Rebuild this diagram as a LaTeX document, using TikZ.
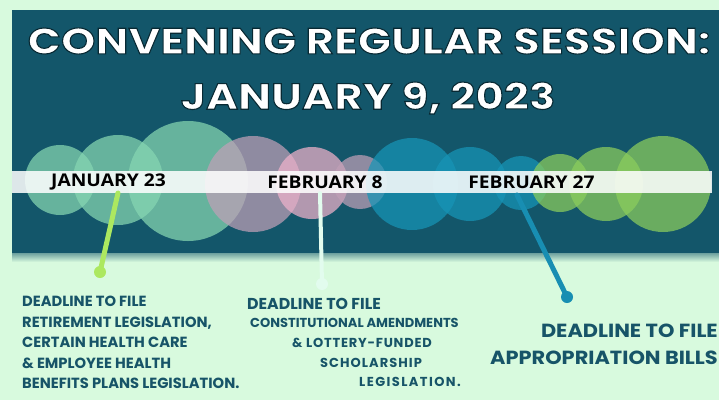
\documentclass[tikz,border=0pt]{standalone}
\usepackage{fontspec}
\setmainfont{Poppins}
\newfontfamily\datefont{Open Sans}[FakeStretch=1.1]
\newfontfamily\titlefont{Poppins}[FakeStretch=1.2]
\newfontfamily\widefont{Poppins}[FakeStretch=1.1]
\usetikzlibrary{positioning}
\definecolor{mint}{RGB}{216,250,222}
\definecolor{deepteal}{RGB}{19,86,106}
\definecolor{inkteal}{RGB}{23,84,104}
\definecolor{seafoam}{RGB}{135,215,178}
\definecolor{mauve}{RGB}{192,160,183}
\definecolor{rose}{RGB}{240,178,203}
\definecolor{lagoon}{RGB}{23,149,183}
\definecolor{leaf}{RGB}{140,206,93}
\definecolor{limepin}{RGB}{172,232,96}
\definecolor{palepin}{RGB}{226,252,238}
\definecolor{bluepin}{RGB}{24,142,178}
% white letters with a dark rim
\newcommand{\rimmed}[1]{\special{pdf:literal 2 Tr 1.1 w 0.03 0.16 0.2 RG}#1\special{pdf:literal 0 Tr}}
\tikzset{
	bubble/.style={fill=#1, opacity=0.72, draw=none},
	datelabel/.style={font=\datefont\bfseries\fontsize{17.5}{17.5}\selectfont, text=black, inner sep=0pt},
	bigtitle/.style={font=\titlefont\bfseries\fontsize{36.5}{36.5}\selectfont, text=white, inner sep=0pt},
	note/.style={font=\bfseries\fontsize{14.7}{20.5}\selectfont, text=inkteal, inner sep=0pt},
	smallnote/.style={note, anchor=west, font=\bfseries\fontsize{13}{13}\selectfont\addfontfeatures{LetterSpace=#1}},
	pinline/.style={line width=5pt, line cap=round},
	pindot/.style={circle, fill=#1, minimum size=12pt, inner sep=0pt}
}
\begin{document}
\begin{tikzpicture}[x=1pt, y=-1pt]
		\useasboundingbox (0,0) rectangle (719,400);
		\fill[mint] (0,0) rectangle (719,400);
		\fill[deepteal] (12,10) rectangle (719,253);
		\shade[top color=deepteal!55!mint, bottom color=mint] (12,253) rectangle (719,262);
		% title
		\node[bigtitle] (title1) at (369,41) {\rimmed{CONVENING REGULAR SESSION:}};
		\node[bigtitle] (title2) at (368,98) {\rimmed{JANUARY 9, 2023}};
		% bubbles
		\fill[bubble=seafoam] (60,180) circle (35pt);
		\fill[bubble=seafoam] (118,180) circle (45pt);
		\fill[bubble=seafoam] (188,181) circle (60pt);
		\fill[bubble=mauve] (253,184) circle (48pt);
		\fill[bubble=rose] (312,183) circle (36pt);
		\fill[bubble=mauve] (360,182) circle (27pt);
		\fill[bubble=lagoon] (412,184) circle (46pt);
		\fill[bubble=lagoon] (470,184) circle (37pt);
		\fill[bubble=lagoon] (521,183) circle (27pt);
		\fill[bubble=leaf] (560,183) circle (29pt);
		\fill[bubble=leaf] (606,184) circle (37pt);
		\fill[bubble=leaf] (663,184) circle (48pt);
		% timeline band
		\fill[white, opacity=0.86] (12,171) rectangle (712,193);
		\node[datelabel] (jan23) at (108.5,182) {JANUARY 23};
		\node[datelabel] (feb8) at (325,182) {FEBRUARY 8};
		\node[datelabel] (feb27) at (531.5,182) {FEBRUARY 27};
		% pins
		\coordinate (pin1top) at (118,193);
		\coordinate (pin2top) at (320,193);
		\coordinate (pin3top) at (517,195);
		\node[pindot=limepin] (pin1) at (100,272) {};
		\node[pindot=palepin] (pin2) at (322,284) {};
		\node[pindot=bluepin] (pin3) at (567,297) {};
		\draw[pinline, limepin] (pin1top) -- (pin1.center);
		\draw[pinline, palepin, line width=4pt] (pin2top) -- (pin2.center);
		\draw[pinline, bluepin] (pin3top) -- (pin3.center);
		% deadlines
		\node[note, align=left, anchor=north west] (retire) at (22,296) {DEADLINE TO FILE\\RETIREMENT LEGISLATION,\\CERTAIN HEALTH CARE\\\& EMPLOYEE HEALTH\\BENEFITS PLANS LEGISLATION.};
		\node[note, anchor=west, font=\bfseries\fontsize{15.8}{15.8}\selectfont] (const1) at (247,303.5) {DEADLINE TO FILE};
		\node[smallnote=0] (const2) at (250,323) {CONSTITUTIONAL AMENDMENTS};
		\node[smallnote=6] (const3) at (292,343) {\& LOTTERY-FUNDED};
		\node[smallnote=8] (const4) at (320,363) {SCHOLARSHIP};
		\node[smallnote=11] (const5) at (359,381.5) {LEGISLATION.};
		\node[note, align=right, anchor=north east, font=\widefont\bfseries\fontsize{19}{26.5}\selectfont] (approp) at (718,324) {DEADLINE TO FILE\\APPROPRIATION BILLS};
	\end{tikzpicture}
\end{document}
